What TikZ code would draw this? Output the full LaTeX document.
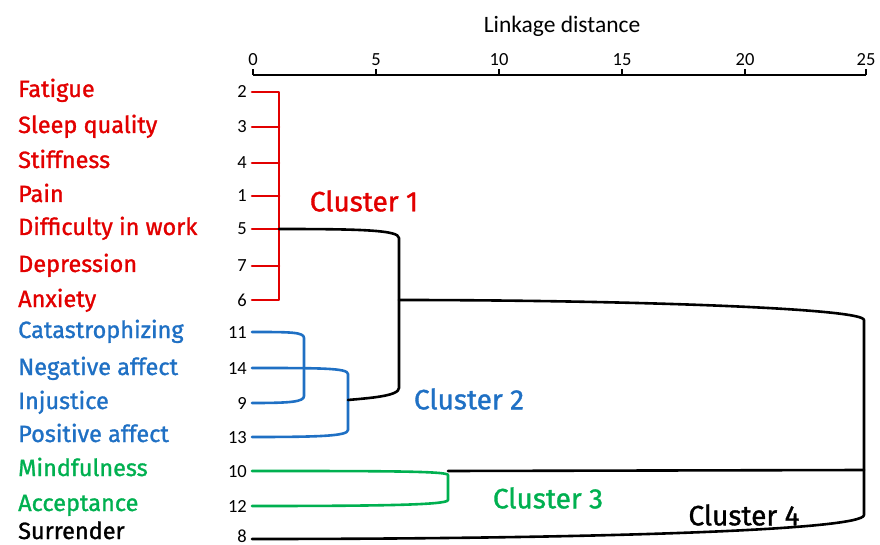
\documentclass[tikz,border=0pt]{standalone}
\usepackage{fontspec}
\setmainfont{Fira Sans}
\newfontfamily\lf{Fira Sans}[FakeBold=1.2]
\newfontfamily\carl{Carlito}
\definecolor{cred}{RGB}{226,0,0}
\definecolor{cblue}{RGB}{31,112,196}
\definecolor{cgreen}{RGB}{0,176,80}
\begin{document}
\begin{tikzpicture}[x=1pt,y=-1pt,
  lab/.style={anchor=base west, font=\lf\fontsize{23.5}{23.5}\selectfont, inner sep=0},
  num/.style={anchor=base east, font=\carl\fontsize{18.5}{18.5}\selectfont, inner sep=0},
  ticklab/.style={anchor=base, font=\carl\fontsize{18.5}{18.5}\selectfont, inner sep=0},
  clab/.style={font=\lf\fontsize{28}{28}\selectfont, inner sep=0},
  br/.style={line width=2.6pt, line cap=round, line join=round},
  axisline/.style={line width=2pt}]
\useasboundingbox (0,0) rectangle (880,545);

% axis
\node[anchor=base, font=\carl\fontsize{23.5}{23.5}\selectfont, inner sep=0] (title) at (562,33) {Linkage distance};
\coordinate (a0) at (253,75);
\coordinate (a25) at (866,75);
\draw[axisline] (a0) -- (a25);
\foreach \v/\x in {0/253,5/376,10/499,15/622,20/745,25/866}{
  \coordinate (t\v) at (\x,75);
  \draw[axisline] (t\v) -- ++(0,-6);
  \node[ticklab] (tl\v) at (\x,66) {\v};
}

% labels
\node[lab, text=cred] (Lfat) at (18,97) {Fatigue};
\node[lab, text=cred] (Lsle) at (18,133) {Sleep quality};
\node[lab, text=cred] (Lsti) at (18,168) {Stiffness};
\node[lab, text=cred] (Lpai) at (18,202) {Pain};
\node[lab, text=cred] (Ldif) at (18,235) {Difficulty in work};
\node[lab, text=cred] (Ldep) at (18,272) {Depression};
\node[lab, text=cred] (Lanx) at (18,307) {Anxiety};
\node[lab, text=cblue] (Lcat) at (18,338) {Catastrophizing};
\node[lab, text=cblue] (Lneg) at (18,375) {Negative affect};
\node[lab, text=cblue] (Linj) at (18,409) {Injustice};
\node[lab, text=cblue] (Lpos) at (18,442) {Positive affect};
\node[lab, text=cgreen] (Lmin) at (18,476) {Mindfulness};
\node[lab, text=cgreen] (Lacc) at (18,511) {Acceptance};
\node[lab, text=black] (Lsur) at (18,539) {Surrender};

% leaf numbers
\foreach \n/\y/\b in {2/92/98,3/127/133,4/163/169,1/196/202,5/229/235,7/266/272,6/300/306,11/332/338,14/368/374,9/403/409,13/437/443,10/471/477,12/506/512,8/539/542}{
  \node[num] (n\n) at (247,\b) {\n};
  \coordinate (e\n) at (252,\y);
}

% cluster 1 (red)
\coordinate (r2) at (279,92);
\coordinate (r6) at (279,300);
\draw[br, cred] (e2) -- (r2) -- (r6) -- (e6);
\foreach \n/\y in {3/127,4/163,1/196,5/229,7/266}{
  \draw[br, cred] (e\n) -- (279,\y);
}

% cluster 2 (blue)
\draw[br, cblue] (e11) .. controls (290,332) and (304,332) .. (304,338) -- (304,396) .. controls (304,402) and (290,403) .. (e9);
\draw[br, cblue] (e14) .. controls (320,368) and (348,368) .. (348,374) -- (348,430) .. controls (348,436) and (320,437) .. (e13);

% cluster 3 (green)
\draw[br, cgreen] (e10) .. controls (380,471) and (448,471) .. (448,475) -- (448,500) .. controls (448,505) and (380,506) .. (e12);

% black links
\coordinate (k1) at (279,229);
\coordinate (k2) at (348,400);
\coordinate (k3) at (399,300);
\coordinate (k4) at (448,471);
\coordinate (k5) at (864,470);
\draw[br, black] (k1) .. controls (360,229) and (399,230) .. (399,238) -- (399,388) .. controls (399,396) and (370,398) .. (k2);
\draw[br, black] (k3) .. controls (620,300) and (864,308) .. (864,320) -- (864,515) .. controls (864,530) and (600,539) .. (e8);
\draw[br, black] (k4) -- (k5);

% cluster labels
\node[clab, text=cred] (c1) at (364,201) {Cluster 1};
\node[clab, text=cblue] (c2) at (469,399) {Cluster 2};
\node[clab, text=cgreen] (c3) at (548,498) {Cluster 3};
\node[clab, text=black] (c4) at (744,515) {Cluster 4};
\end{tikzpicture}
\end{document}
